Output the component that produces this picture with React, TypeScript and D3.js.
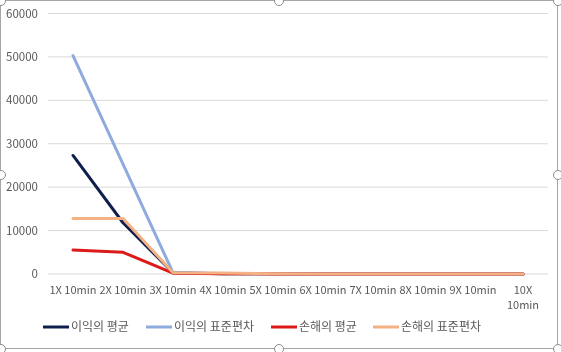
import * as d3 from "d3";
import React, { useEffect, useRef } from "react";

const categories = [
  "1X 10min", "2X 10min", "3X 10min", "4X 10min", "5X 10min",
  "6X 10min", "7X 10min", "8X 10min", "9X 10min", "10X 10min",
];
const profitMean = [27300, 11800, 300, 80, 30, 20, 10, 10, 10, 10];
const profitStd = [50300, 25300, 300, 100, 40, 20, 10, 10, 10, 10];
const lossMean = [5500, 5000, 200, 60, 20, 10, 10, 10, 10, 10];
const lossStd = [12800, 12800, 300, 250, 40, 20, 10, 10, 10, 10];
const yTicks = [0, 10000, 20000, 30000, 40000, 50000, 60000];

const series = [
  { name: "이익의 평균", values: profitMean, color: "#0f1f4d" },
  { name: "이익의 표준편차", values: profitStd, color: "#8faadc" },
  { name: "손해의 평균", values: lossMean, color: "#dc1a1a" },
  { name: "손해의 표준편차", values: lossStd, color: "#f4b183" },
];

export default function App() {
  const ref = useRef<SVGSVGElement>(null);

  useEffect(() => {
    const W = 561, H = 352;
    const margin = { top: 13.5, right: 13, bottom: 78, left: 48 };
    const width = W - margin.left - margin.right;
    const height = H - margin.top - margin.bottom;
    const svg = d3.select(ref.current);
    svg.selectAll("*").remove();
    const font = "'Noto Sans CJK KR', 'Noto Sans', sans-serif";

    // chart frame
    svg.append("rect").attr("x", 0.5).attr("y", 0.5).attr("width", W - 4).attr("height", H - 4)
      .attr("rx", 3).attr("fill", "#fff").attr("stroke", "#a6a6a6").attr("stroke-width", 1);
    const handles = [[1, 1], [279, 1], [W - 3, 1], [1, 175], [W - 3, 175], [1, H - 3], [279, H - 3], [W - 3, H - 3]];
    svg.selectAll(".h").data(handles).join("circle")
      .attr("cx", (d) => d[0]).attr("cy", (d) => d[1]).attr("r", 4.5)
      .attr("fill", "#fff").attr("stroke", "#8c8c8c").attr("stroke-width", 1);

    const g = svg.append("g").attr("transform", `translate(${margin.left},${margin.top})`);

    const x = d3.scaleBand().domain(categories).range([0, width]);
    const y = d3.scaleLinear().domain([0, 60000]).range([height, 0]);

    g.selectAll(".grid").data(yTicks).join("line")
      .attr("x1", 0).attr("x2", width)
      .attr("y1", (d) => y(d)).attr("y2", (d) => y(d))
      .attr("stroke", "#d9d9d9").attr("stroke-width", 1);

    g.selectAll(".yl").data(yTicks).join("text")
      .attr("x", -10).attr("y", (d) => y(d)).attr("dy", "0.35em")
      .attr("text-anchor", "end").attr("font-family", font).attr("font-size", 11.5)
      .attr("fill", "#595959").text((d) => d);

    categories.forEach((c) => {
      const cx = (x(c) as number) + x.bandwidth() / 2;
      const t = g.append("text").attr("x", cx).attr("y", height + 20)
        .attr("text-anchor", "middle").attr("font-family", font).attr("font-size", 11)
        .attr("fill", "#595959");
      if (c.startsWith("10X")) {
        const parts = c.split(" ");
        t.append("tspan").attr("x", cx).text(parts[0]);
        t.append("tspan").attr("x", cx).attr("dy", 15).text(parts[1]);
      } else {
        t.text(c);
      }
    });

    const line = d3.line<number>()
      .x((_, i) => (x(categories[i]) as number) + x.bandwidth() / 2)
      .y((d) => y(d));

    series.forEach((s) => {
      g.append("path").datum(s.values).attr("d", line)
        .attr("fill", "none").attr("stroke", s.color).attr("stroke-width", 3)
        .attr("stroke-linejoin", "round").attr("stroke-linecap", "round");
    });

    // legend
    const legendX = [43, 146, 271, 373];
    const ly = 327;
    series.forEach((s, i) => {
      svg.append("line").attr("x1", legendX[i]).attr("x2", legendX[i] + 26)
        .attr("y1", ly).attr("y2", ly).attr("stroke", s.color).attr("stroke-width", 3);
      svg.append("text").attr("x", legendX[i] + 28).attr("y", ly).attr("dy", "0.35em")
        .attr("font-family", font).attr("font-size", 12).attr("fill", "#595959").text(s.name);
    });
  }, []);

  return (
    <div style={{ position: "fixed", left: 0, top: 0 }}>
      <svg ref={ref} width={561} height={352} />
    </div>
  );
}
